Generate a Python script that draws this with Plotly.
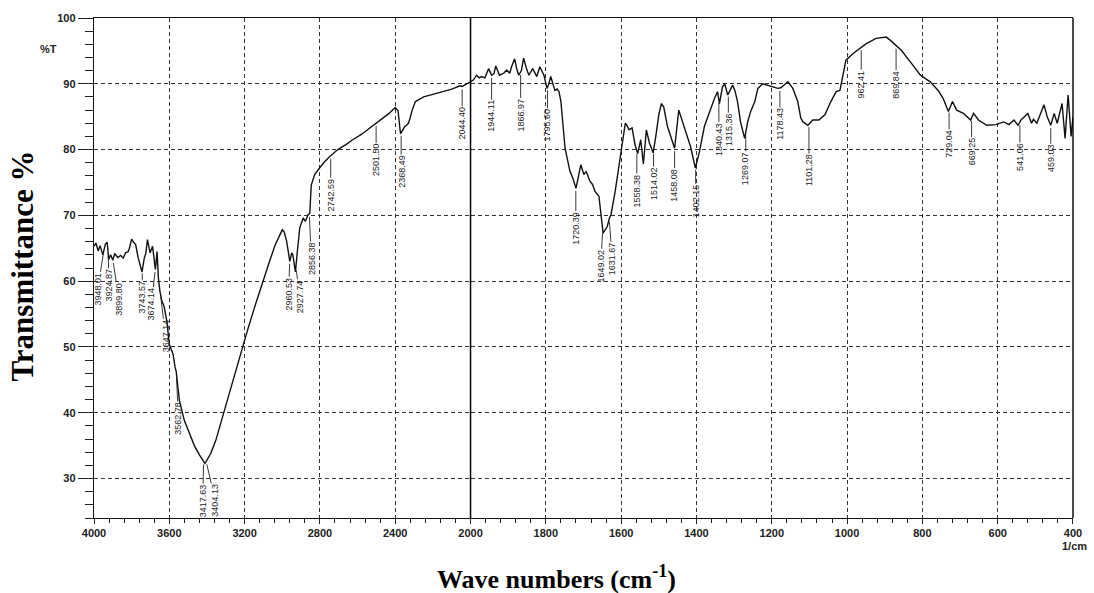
import numpy as np
import plotly.graph_objects as go

# ---------------- data ----------------
wavenumber = [
    4000, 3990, 3978, 3968, 3953, 3940, 3930, 3922, 3912, 3900, 3890, 3874, 3858, 3845,
    3832, 3818, 3812, 3800, 3790, 3779, 3765, 3745, 3733, 3725, 3716, 3710, 3702, 3689,
    3680, 3674, 3665, 3658, 3650, 3640, 3628, 3613, 3600, 3590, 3580, 3570, 3563, 3555,
    3546, 3520, 3493, 3467, 3440, 3418, 3411, 3404, 3395, 3380, 3353, 3318, 3274, 3221,
    3186, 3142, 3098, 3070, 3038, 3010, 3000, 2990, 2977, 2960, 2950, 2944, 2930, 2920,
    2907, 2889, 2877, 2863, 2854, 2846, 2828, 2802, 2780, 2749, 2705, 2660, 2626, 2580,
    2547, 2504, 2470, 2433, 2400, 2385, 2372, 2360, 2350, 2340, 2330, 2323, 2310, 2293,
    2249, 2200, 2144, 2100, 2056, 2044, 2021, 2000,
    1992, 1984, 1977, 1971, 1962, 1952, 1944, 1938, 1933, 1923, 1912, 1904, 1896, 1891,
    1883, 1877, 1872, 1865, 1859, 1852, 1845, 1835, 1829, 1824, 1816, 1810, 1805, 1797,
    1792, 1787, 1782, 1776, 1770, 1765, 1760, 1749, 1736, 1728, 1720, 1713, 1707, 1699,
    1693, 1683, 1676, 1669, 1659, 1648, 1640, 1637, 1631, 1627, 1616, 1603, 1589, 1584,
    1579, 1571, 1563, 1556, 1548, 1541, 1533, 1525, 1515, 1508, 1500, 1493, 1487, 1477,
    1468, 1458, 1447, 1438, 1426, 1416, 1403, 1392, 1379, 1365, 1352, 1344, 1339, 1331,
    1325, 1317, 1304, 1298, 1291, 1283, 1272, 1264, 1256, 1245, 1237, 1224, 1211, 1197,
    1184, 1176, 1165, 1157, 1144, 1131, 1123, 1117, 1104, 1091, 1075, 1059, 1043, 1029,
    1019, 1011, 1003, 984, 966, 949, 923, 910, 896, 885, 872, 856, 829, 805, 779, 757,
    745, 739, 731, 720, 709, 691, 672, 664, 651, 629, 605, 584, 570, 557, 546, 538, 520,
    510, 505, 496, 485, 477, 468, 459, 450, 442, 429, 421, 413, 405, 400,
]
transmittance = [
    65.3, 65.8, 64.6, 65.4, 64.0, 65.6, 65.9, 63.3, 64.0, 63.2, 64.2, 63.6, 63.9, 63.5,
    64.3, 64.5, 65.0, 66.4, 65.9, 65.6, 63.5, 61.4, 63.5, 64.2, 66.3, 65.2, 64.3, 65.3,
    63.0, 61.8, 64.5, 60.5, 58.5, 57.0, 56.2, 53.9, 50.4, 49.5, 48.9, 47.0, 46.2, 44.0,
    41.8, 38.8, 36.8, 35.0, 33.6, 32.6, 32.3, 32.6, 33.0, 33.8, 35.8, 39.3, 43.8, 48.9,
    52.4, 56.5, 60.5, 62.8, 65.5, 67.2, 67.8, 67.5, 66.1, 63.0, 64.3, 64.0, 61.4, 64.5,
    68.1, 69.6, 69.1, 70.1, 70.3, 74.6, 76.2, 77.2, 78.0, 78.9, 80.0, 80.8, 81.5, 82.3,
    83.0, 84.0, 84.7, 85.5, 86.4, 85.9, 82.4, 83.0, 83.5, 83.7, 84.0, 84.6, 86.0, 87.3,
    88.0, 88.4, 88.8, 89.2, 89.7, 89.6, 90.0, 90.3,
    90.6, 91.3, 90.9, 91.1, 90.9, 92.3, 91.3, 91.5, 92.7, 91.3, 91.6, 92.1, 91.6, 92.6,
    93.8, 92.2, 91.3, 92.0, 93.9, 92.4, 91.3, 92.3, 91.6, 91.1, 92.6, 91.8, 91.3, 89.3,
    90.0, 91.1, 90.0, 89.0, 89.2, 88.8, 87.3, 80.2, 76.7, 75.6, 74.1, 76.0, 77.7, 76.2,
    76.7, 75.2, 74.7, 73.6, 72.9, 67.3, 68.0, 68.3, 69.6, 70.1, 73.6, 78.7, 84.0, 83.6,
    83.0, 83.3, 80.7, 79.4, 81.5, 77.8, 83.0, 81.0, 79.5, 82.0, 85.3, 87.0, 86.5, 83.5,
    82.0, 80.2, 86.0, 84.5, 82.5, 80.5, 77.2, 79.7, 83.5, 85.8, 87.8, 88.8, 87.0, 89.5,
    90.0, 88.3, 89.8, 89.0, 87.3, 84.2, 81.7, 84.2, 85.8, 87.3, 89.3, 90.0, 89.8, 89.5,
    89.3, 89.4, 90.0, 90.3, 89.3, 87.3, 84.8, 84.2, 83.7, 84.5, 84.5, 85.3, 87.3, 88.8,
    89.0, 91.3, 93.6, 94.6, 95.4, 96.1, 96.9, 97.0, 97.1, 96.6, 95.9, 95.1, 93.1, 91.3,
    90.3, 88.9, 87.8, 87.0, 85.8, 87.3, 86.0, 85.5, 84.5, 85.5, 84.5, 83.7, 83.8, 84.2,
    83.8, 84.5, 83.7, 84.5, 85.5, 84.0, 84.6, 84.0, 85.5, 86.8, 84.9, 83.7, 85.5, 84.0,
    87.0, 81.7, 88.3, 82.0, 85.0,
]

peak_labels = [3948.01, 3924.87, 3899.80, 3743.57, 3674.14, 3647.14, 3562.78, 3417.63,
               3404.13, 2960.53, 2927.74, 2856.38, 2742.59, 2501.50, 2368.49, 2044.40,
               1944.11, 1866.97, 1795.60, 1720.39, 1649.02, 1631.67, 1558.38, 1514.02,
               1458.08, 1402.15, 1340.43, 1315.36, 1269.07, 1178.43, 1101.28, 962.41,
               869.84, 729.04, 669.25, 541.06, 459.03]

ticks_high = [4000, 3600, 3200, 2800, 2400]
ticks_low = [2000, 1800, 1600, 1400, 1200, 1000, 800, 600, 400]
y_ticks = [30, 40, 50, 60, 70, 80, 90, 100]

# ---------------- styling ----------------
label_ay = [38, 32, 39, 27, 35, 42, 46, 39, 39, 33, 29, 45, 39, 37, 39, 37, 41, 43, 38,
            40, 36, 40, 40, 33, 37, 34, 39, 36, 36, 36, 46, 37, 39, 34, 34, 35, 33]
label_ax = [-6, 1, 6, 0, -4, 5, 2, -1, 9, -1, 4, 2, 0, 0, 0, 0, 0, 0, 0, 0, -2, 3, 0, 0,
            0, 0, 0, 0, 0, 0, 0, 0, 0, 0, 0, 0, 0]

wn = np.array(wavenumber, dtype=float)
tr = np.array(transmittance, dtype=float)
hi = wn >= 2000
lo = wn <= 2000

split = 5 / 13
tick_font = dict(family="Liberation Sans, Arial, sans-serif", size=11, color="#222")
grid = dict(showgrid=True, gridcolor="#333", gridwidth=1, griddash="4px,3px")

fig = go.Figure()
fig.add_trace(go.Scatter(x=wn[hi], y=tr[hi], mode="lines", xaxis="x", yaxis="y",
                         line=dict(color="#111", width=1.4), showlegend=False))
fig.add_trace(go.Scatter(x=wn[lo], y=tr[lo], mode="lines", xaxis="x2", yaxis="y",
                         line=dict(color="#111", width=1.4), showlegend=False))

annotations = []
for i, p in enumerate(peak_labels):
    ref = "x" if p > 2000 else "x2"
    mask = hi if p > 2000 else lo
    yv = float(np.interp(p, wn[mask][::-1], tr[mask][::-1]))
    annotations.append(dict(
        x=p, y=yv, xref=ref, yref="y", text=f"{p:.2f}", textangle=-90,
        showarrow=True, arrowhead=0, arrowwidth=0.9, arrowcolor="#222",
        ax=label_ax[i], ay=label_ay[i], standoff=3, borderpad=0,
        font=dict(family="Liberation Sans, Arial", size=9, color="#222")))

annotations += [
    dict(text="<b>Transmittance %</b>", textangle=-90, xref="paper", yref="paper",
         x=-0.0735, y=0.503, showarrow=False, xanchor="center", yanchor="middle",
         font=dict(family="Liberation Serif, Times New Roman, serif", size=31, color="#000")),
    dict(text="<b>Wave numbers (cm<sup>-1</sup>)</b>", xref="paper", yref="paper",
         x=0.472, y=-0.119, showarrow=False, xanchor="center", yanchor="middle",
         font=dict(family="Liberation Serif, Times New Roman, serif", size=26, color="#000")),
    dict(text="<b>1/cm</b>", xref="paper", yref="paper", x=1.002, y=-0.0557,
         showarrow=False, xanchor="center", yanchor="middle", font=tick_font),
    dict(text="<b>%T</b>", xref="paper", yref="y", x=0, xshift=-46, y=95.3,
         showarrow=False, xanchor="center", yanchor="middle", font=tick_font),
]

fig.update_layout(
    width=1094, height=593,
    margin=dict(l=94, r=20, t=15, b=75),
    paper_bgcolor="white", plot_bgcolor="white",
    xaxis=dict(domain=[0, split], range=[4000, 2000], tickvals=ticks_high,
               ticktext=[f"<b>{t}</b>" for t in ticks_high],
               ticks="outside", ticklen=5, tickcolor="#222", tickfont=tick_font,
               minor=dict(tick0=4000, dtick=80, ticks="outside", ticklen=4,
                          tickcolor="#222"),
               showline=True, linecolor="#111", linewidth=1.4, mirror=True,
               zeroline=False, anchor="y", **grid),
    xaxis2=dict(domain=[split, 1], range=[2000, 400], tickvals=ticks_low,
                ticktext=[f"<b>{t}</b>" for t in ticks_low],
                ticks="outside", ticklen=5, tickcolor="#222", tickfont=tick_font,
                minor=dict(tick0=400, dtick=40, ticks="outside", ticklen=4,
                           tickcolor="#222"),
                showline=True, linecolor="#111", linewidth=1.4, mirror=True,
                zeroline=False, anchor="y", **grid),
    yaxis=dict(range=[24, 100], tickvals=y_ticks,
               ticktext=[f"<b>{t}</b>" for t in y_ticks],
               ticks="outside", ticklen=15, tickcolor="#222", tickfont=tick_font,
               minor=dict(tick0=0, dtick=2, ticks="outside", ticklen=8,
                          tickcolor="#222"),
               showline=True, linecolor="#111", linewidth=1.4,
               zeroline=False, anchor="x", **grid),
    annotations=annotations,
    shapes=[
        dict(type="line", xref="paper", yref="paper", x0=split, x1=split, y0=0, y1=1,
             layer="above", line=dict(color="#000", width=1.5)),
        dict(type="line", xref="paper", yref="paper", x0=1, x1=1, y0=0, y1=1,
             layer="above", line=dict(color="#000", width=1.4)),
    ],
)

fig.write_html("out.html")
